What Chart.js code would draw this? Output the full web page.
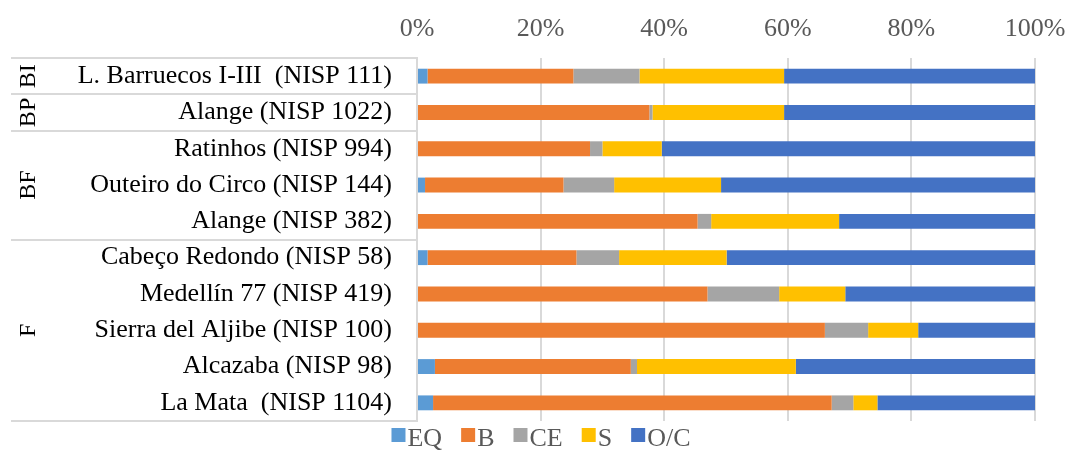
<!DOCTYPE html>
<html>
<head>
<meta charset="utf-8">
<script src="https://cdn.jsdelivr.net/npm/chart.js@4.4.1/dist/chart.umd.min.js"></script>
<style>
  html, body { margin: 0; padding: 0; background: #ffffff; }
  #wrap { width: 1070px; height: 450px; position: relative; }
</style>
</head>
<body>
<div id="wrap"><canvas id="c"></canvas></div>
<script>
// ---- Data (percentages) ----
const categories = [
  'L. Barruecos I-III  (NISP 111)',
  'Alange (NISP 1022)',
  'Ratinhos (NISP 994)',
  'Outeiro do Circo (NISP 144)',
  'Alange (NISP 382)',
  'Cabeço Redondo (NISP 58)',
  'Medellín 77 (NISP 419)',
  'Sierra del Aljibe (NISP 100)',
  'Alcazaba (NISP 98)',
  'La Mata  (NISP 1104)'
];
const groupNames = ['BI', 'BP', 'BF', 'F'];
const groupSizes = [1, 1, 3, 5];

const seriesNames = ['EQ', 'B', 'CE', 'S', 'O/C'];
const valuesEQ = [1.7, 0, 0, 1.3, 0, 1.7, 0, 0, 2.9, 2.6];
const valuesB  = [23.6, 37.6, 28.0, 22.4, 45.4, 24.1, 47.0, 66.0, 31.7, 64.5];
const valuesCE = [10.7, 0.5, 2.0, 8.2, 2.2, 6.9, 11.6, 7.0, 1.0, 3.5];
const valuesS  = [23.4, 21.3, 9.6, 17.3, 20.7, 17.4, 10.7, 8.1, 25.7, 3.9];
const valuesOC = [40.6, 40.6, 60.4, 50.8, 31.7, 49.9, 30.7, 18.9, 38.7, 25.5];
const tickValues = [0, 20, 40, 60, 80, 100];

const seriesColors = ['#5B9BD5', '#ED7D31', '#A5A5A5', '#FFC000', '#4472C4'];
const FONT = "'Liberation Serif', 'Times New Roman', serif";

const seriesValues = [valuesEQ, valuesB, valuesCE, valuesS, valuesOC];

// group labels + separators on the left
const groupPlugin = {
  id: 'groupLabels',
  afterDraw(chart) {
    const { ctx, chartArea } = chart;
    const y = chart.scales.y;
    const n = categories.length;
    const bound = (i) => {
      if (i <= 0) return chartArea.top;
      if (i >= n) return chartArea.bottom;
      return (y.getPixelForValue(i - 1) + y.getPixelForValue(i)) / 2;
    };
    ctx.save();
    ctx.strokeStyle = '#d9d9d9';
    ctx.lineWidth = 2;
    let start = 0;
    const lines = [0];
    groupSizes.forEach(s => { start += s; lines.push(start); });
    lines.forEach(i => {
      const yy = Math.round(bound(i));
      ctx.beginPath();
      ctx.moveTo(11, yy);
      ctx.lineTo(chartArea.left, yy);
      ctx.stroke();
    });
    // group names, rotated
    ctx.fillStyle = '#000000';
    ctx.font = '24px ' + FONT;
    ctx.textAlign = 'center';
    ctx.textBaseline = 'middle';
    start = 0;
    groupNames.forEach((g, k) => {
      const top = bound(start);
      const bot = bound(start + groupSizes[k]);
      start += groupSizes[k];
      ctx.save();
      ctx.translate(28, (top + bot) / 2);
      ctx.rotate(-Math.PI / 2);
      ctx.fillText(g, 0, 1);
      ctx.restore();
    });
    ctx.restore();
  }
};

// legend drawn below the plot
const legendPlugin = {
  id: 'bottomLegend',
  afterDraw(chart) {
    const { ctx } = chart;
    ctx.save();
    ctx.font = '26px ' + FONT;
    const box = 14, gapText = 2, gapItem = 19;
    const items = chart.data.datasets.map(ds => ({
      text: ds.label, color: ds.backgroundColor,
      w: box + gapText + ctx.measureText(ds.label).width
    }));
    const total = items.reduce((a, it) => a + it.w, 0) + gapItem * (items.length - 1);
    let x = 541 - total / 2;
    const boxTop = 428, base = 446;
    items.forEach(it => {
      ctx.fillStyle = it.color;
      ctx.fillRect(x, boxTop, box, box);
      ctx.fillStyle = '#595959';
      ctx.textAlign = 'left';
      ctx.textBaseline = 'alphabetic';
      ctx.fillText(it.text, x + box + gapText, base);
      x += it.w + gapItem;
    });
    ctx.restore();
  }
};

new Chart(document.getElementById('c'), {
  type: 'bar',
  data: {
    labels: categories,
    datasets: seriesNames.map((name, i) => ({
      label: name,
      data: seriesValues[i],
      backgroundColor: seriesColors[i],
      borderWidth: 0,
      barPercentage: 0.41,
      categoryPercentage: 1.0
    }))
  },
  options: {
    indexAxis: 'y',
    responsive: true,
    maintainAspectRatio: false,
    animation: false,
    layout: { padding: { left: 0, right: 35, top: 0, bottom: 29 } },
    plugins: {
      legend: { display: false },
      tooltip: { enabled: false }
    },
    scales: {
      x: {
        position: 'top',
        stacked: true,
        min: 0,
        max: 100,
        afterBuildTicks: (scale) => { scale.ticks = tickValues.map(v => ({ value: v })); },
        afterFit: (scale) => {
          scale.height = 58;
          scale.paddingLeft = 0; scale.paddingRight = 0;
          scale.paddingTop = 0; scale.paddingBottom = 0;
        },
        grid: { color: '#d9d9d9', lineWidth: 2, drawTicks: false },
        border: { display: false },
        ticks: {
          padding: 13,
          maxRotation: 0,
          color: '#595959',
          font: { family: FONT, size: 26 },
          callback: (v) => v + '%'
        }
      },
      y: {
        stacked: true,
        afterFit: (scale) => {
          scale.width = 417;
          scale.paddingLeft = 0; scale.paddingRight = 0;
          scale.paddingTop = 0; scale.paddingBottom = 0;
        },
        grid: { display: false, drawTicks: false },
        border: { display: true, color: '#d9d9d9', width: 2 },
        ticks: {
          padding: 25,
          autoSkip: false,
          color: '#000000',
          font: { family: FONT, size: 26 }
        }
      }
    }
  },
  plugins: [groupPlugin, legendPlugin]
});
</script>
</body>
</html>
